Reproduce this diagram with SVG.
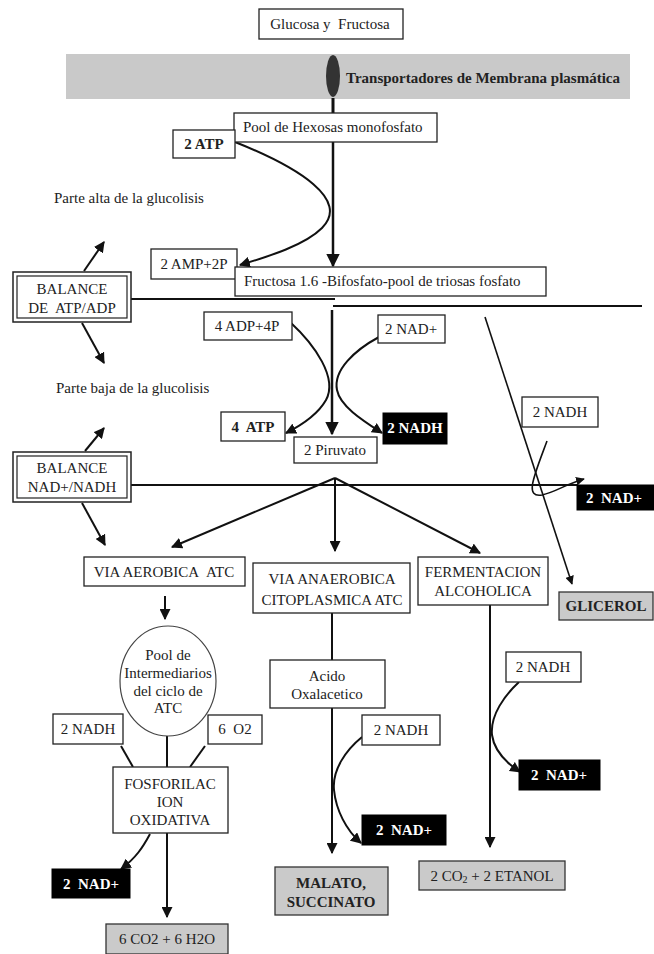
<svg xmlns="http://www.w3.org/2000/svg" width="654" height="954" viewBox="0 0 654 954">
<style>
.bx{fill:#fff;stroke:#222;stroke-width:1.3}
.gb{fill:#cacaca;stroke:#333;stroke-width:1.3}
.kb{fill:#000;stroke:#000}
.t{font-family:"Liberation Serif","Times New Roman",serif;font-size:15px;fill:#222;text-anchor:middle;dominant-baseline:central}
.l{text-anchor:start}
.b{font-weight:bold}
.w{fill:#fff;font-weight:bold}
.ln{fill:none;stroke:#111;stroke-width:2}
.th{fill:none;stroke:#111;stroke-width:1.6}
.ar{marker-end:url(#ah)}
</style>
<defs>
<marker id="ah" viewBox="0 0 10 10" refX="9" refY="5" markerWidth="5.5" markerHeight="5.5" markerUnits="strokeWidth" orient="auto">
<path d="M0,0 L10,5 L0,10 z" fill="#111"/>
</marker>
</defs>
<rect x="66" y="54" width="564" height="45" fill="#c9c9c9"/>
<g id="connectors">
<line class="ln" x1="333" y1="98" x2="333" y2="113" style="stroke-width:3"/>
<line class="ln ar" x1="333" y1="141" x2="333" y2="266" style="stroke-width:2.5"/>
<path class="ln ar" d="M235,142 C300,168 350,200 322,228 C305,245 270,256 240,265"/>
<line class="ln" x1="131" y1="299" x2="335" y2="299"/>
<line class="ln" x1="333" y1="306" x2="642" y2="306"/>
<line class="ln ar" x1="84" y1="271" x2="104" y2="242"/>
<line class="ln ar" x1="82" y1="323" x2="104" y2="363"/>
<line class="ln ar" x1="332" y1="310" x2="332" y2="434" style="stroke-width:2.5"/>
<path class="ln ar" d="M290,322 C315,345 338,378 326,400 C318,414 302,425 286,433"/>
<path class="ln ar" d="M379,337 C355,350 333,370 337,390 C340,406 362,420 382,433"/>
<line class="th ar" x1="485" y1="317" x2="572" y2="584"/>
<path class="th ar" d="M547,441 C534,476 524,498 542,495 C556,492 566,484 584,479"/>
<line class="ln" x1="131" y1="485" x2="578" y2="485"/>
<line class="ln ar" x1="85" y1="451" x2="104" y2="428"/>
<line class="ln ar" x1="82" y1="503" x2="105" y2="545"/>
<line class="ln ar" x1="335" y1="478" x2="172" y2="547"/>
<line class="ln ar" x1="335" y1="478" x2="335" y2="551"/>
<line class="ln ar" x1="335" y1="478" x2="480" y2="553"/>
<line class="ln ar" x1="165" y1="596" x2="165" y2="619"/>
<line class="ln" x1="332" y1="613" x2="332" y2="660"/>
<line class="ln ar" x1="332" y1="708" x2="332" y2="853"/>
<line class="ln ar" x1="490" y1="605" x2="490" y2="847"/>
<path class="ln ar" d="M362,737 C346,750 332,770 334,790 C336,810 346,830 361,843"/>
<path class="ln ar" d="M519,682 C505,695 490,715 492,735 C494,750 505,762 520,772"/>
<line class="ln" x1="121" y1="746" x2="133" y2="767"/>
<line class="ln" x1="167" y1="736" x2="167" y2="767"/>
<line class="ln" x1="205" y1="746" x2="190" y2="767"/>
<path class="ln ar" d="M150,834 C143,847 136,858 121,869"/>
<line class="ln ar" x1="167" y1="833" x2="167" y2="917"/>
</g>
<g id="glucosa"><rect class="bx" x="259" y="9" width="144" height="30"/><text class="t" x="330" y="24">Glucosa y&#160; Fructosa</text></g>
<g id="membrana"><ellipse cx="333" cy="76" rx="7" ry="21" fill="#333"/><text class="t l b" x="346" y="78">Transportadores de Membrana plasmática</text></g>
<g id="pool-hexosas"><rect class="bx" x="234" y="113" width="203" height="29"/><text class="t l" x="243" y="127">Pool de Hexosas monofosfato</text></g>
<g id="atp2"><rect class="bx" x="173" y="130" width="62" height="28"/><text class="t b" x="204" y="144">2 ATP</text></g>
<g id="parte-alta"><text class="t l" x="54" y="198">Parte alta de la glucolisis</text></g>
<g id="amp"><rect class="bx" x="151" y="249" width="86" height="30"/><text class="t" x="194" y="264">2 AMP+2P</text></g>
<g id="fructosa"><rect class="bx" x="235" y="267" width="311" height="29"/><text class="t l" x="244" y="281">Fructosa 1.6 -Bifosfato-pool de triosas fosfato</text></g>
<g id="balance-atp"><rect class="bx" x="13" y="272" width="118" height="50" style="stroke-width:1.5"/><rect x="17" y="276" width="110" height="42" fill="none" stroke="#222" stroke-width="1.2"/><text class="t" x="72" y="289">BALANCE</text><text class="t" x="72" y="308">DE&#160; ATP/ADP</text></g>
<g id="adp"><rect class="bx" x="204" y="312" width="88" height="28"/><text class="t" x="247" y="326">4 ADP+4P</text></g>
<g id="nad-plus-1"><rect class="bx" x="378" y="315" width="67" height="28"/><text class="t" x="411" y="329">2 NAD+</text></g>
<g id="parte-baja"><text class="t l" x="56" y="388">Parte baja de la glucolisis</text></g>
<g id="atp4"><rect class="bx" x="221" y="412" width="64" height="29"/><text class="t b" x="253" y="427">4&#160; ATP</text></g>
<g id="nadh-1"><rect class="kb" x="383" y="413" width="64" height="31"/><text class="t w" x="415" y="428">2 NADH</text></g>
<g id="piruvato"><rect class="bx" x="294" y="437" width="83" height="26"/><text class="t" x="335" y="450">2 Piruvato</text></g>
<g id="nadh-glicerol"><rect class="bx" x="522" y="397" width="76" height="30"/><text class="t" x="560" y="412">2 NADH</text></g>
<g id="nad-plus-glicerol"><rect class="kb" x="577" y="485" width="77" height="25"/><text class="t w" x="614" y="498">2&#160; NAD+</text></g>
<g id="balance-nad"><rect class="bx" x="13" y="452" width="118" height="50" style="stroke-width:1.5"/><rect x="17" y="456" width="110" height="42" fill="none" stroke="#222" stroke-width="1.2"/><text class="t" x="72" y="468">BALANCE</text><text class="t" x="72" y="487">NAD+/NADH</text></g>
<g id="via-aerobica"><rect class="bx" x="84" y="557" width="161" height="29"/><text class="t" x="164" y="572">VIA AEROBICA&#160; ATC</text></g>
<g id="via-anaerobica"><rect class="bx" x="253" y="563" width="157" height="50"/><text class="t" x="332" y="579">VIA ANAEROBICA</text><text class="t" x="332" y="600">CITOPLASMICA ATC</text></g>
<g id="fermentacion"><rect class="bx" x="418" y="557" width="130" height="48"/><text class="t" x="483" y="572">FERMENTACION</text><text class="t" x="483" y="591">ALCOHOLICA</text></g>
<g id="glicerol"><rect class="gb" x="559" y="592" width="94" height="28"/><text class="t b" x="606" y="606">GLICEROL</text></g>
<g id="pool-atc"><ellipse cx="168" cy="681" rx="48" ry="55" fill="#fff" stroke="#444" stroke-width="1.2"/><text class="t" x="168" y="655">Pool de</text><text class="t" x="168" y="673">Intermediarios</text><text class="t" x="168" y="691">del ciclo de</text><text class="t" x="168" y="708">ATC</text></g>
<g id="nadh-aerob"><rect class="bx" x="53" y="714" width="70" height="30"/><text class="t" x="88" y="729">2 NADH</text></g>
<g id="o2"><rect class="bx" x="208" y="715" width="54" height="29"/><text class="t" x="235" y="729">6&#160; O2</text></g>
<g id="fosforilacion"><rect class="bx" x="113" y="767" width="115" height="66"/><text class="t" x="170" y="784">FOSFORILAC</text><text class="t" x="170" y="802">ION</text><text class="t" x="170" y="820">OXIDATIVA</text></g>
<g id="nad-plus-aerob"><rect class="kb" x="52" y="869" width="78" height="29"/><text class="t w" x="91" y="884">2&#160; NAD+</text></g>
<g id="co2-h2o"><rect class="gb" x="106" y="924" width="122" height="30"/><text class="t" x="167" y="939">6 CO2 + 6 H2O</text></g>
<g id="acido"><rect class="bx" x="270" y="660" width="115" height="48"/><text class="t" x="327" y="676">Acido</text><text class="t" x="327" y="694">Oxalacetico</text></g>
<g id="nadh-anaerob"><rect class="bx" x="362" y="715" width="78" height="30"/><text class="t" x="401" y="730">2 NADH</text></g>
<g id="nad-plus-anaerob"><rect class="kb" x="362" y="815" width="84" height="30"/><text class="t w" x="404" y="830">2&#160; NAD+</text></g>
<g id="malato"><rect class="gb" x="275" y="867" width="113" height="48"/><text class="t b" x="331" y="883">MALATO,</text><text class="t b" x="331" y="902">SUCCINATO</text></g>
<g id="nadh-ferm"><rect class="bx" x="506" y="652" width="75" height="30"/><text class="t" x="543" y="667">2 NADH</text></g>
<g id="nad-plus-ferm"><rect class="kb" x="519" y="760" width="81" height="30"/><text class="t w" x="559" y="775">2&#160; NAD+</text></g>
<g id="co2-etanol"><rect class="gb" x="419" y="861" width="146" height="29"/><text class="t" x="492" y="876">2 CO<tspan style="font-size:10px" dy="3">2</tspan><tspan dy="-3"> + 2 ETANOL</tspan></text></g>
</svg>
